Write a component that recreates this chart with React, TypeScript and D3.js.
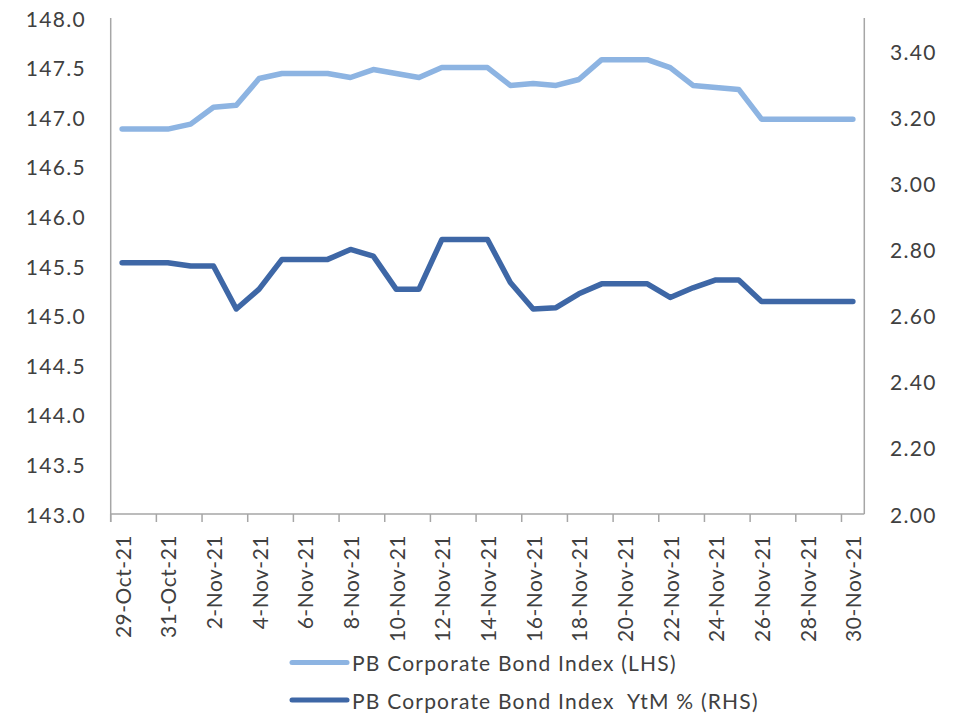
import React from "react";
import * as d3 from "d3";

const categories = [
  "29-Oct-21", "30-Oct-21", "31-Oct-21", "1-Nov-21", "2-Nov-21", "3-Nov-21", "4-Nov-21",
  "5-Nov-21", "6-Nov-21", "7-Nov-21", "8-Nov-21", "9-Nov-21", "10-Nov-21", "11-Nov-21",
  "12-Nov-21", "13-Nov-21", "14-Nov-21", "15-Nov-21", "16-Nov-21", "17-Nov-21", "18-Nov-21",
  "19-Nov-21", "20-Nov-21", "21-Nov-21", "22-Nov-21", "23-Nov-21", "24-Nov-21", "25-Nov-21",
  "26-Nov-21", "27-Nov-21", "28-Nov-21", "29-Nov-21", "30-Nov-21",
];

const indexValues = [
  146.88, 146.88, 146.88, 146.93, 147.1, 147.12, 147.39, 147.44, 147.44, 147.44, 147.4,
  147.48, 147.44, 147.4, 147.5, 147.5, 147.5, 147.32, 147.34, 147.32, 147.38, 147.58,
  147.58, 147.58, 147.5, 147.32, 147.3, 147.28, 146.98, 146.98, 146.98, 146.98, 146.98,
];

const ytmValues = [
  2.76, 2.76, 2.76, 2.75, 2.75, 2.62, 2.68, 2.77, 2.77, 2.77, 2.8,
  2.78, 2.68, 2.68, 2.83, 2.83, 2.83, 2.7, 2.62, 2.624, 2.666, 2.696,
  2.696, 2.696, 2.655, 2.684, 2.708, 2.708, 2.643, 2.643, 2.643, 2.643, 2.643,
];

const leftTicks = [143.0, 143.5, 144.0, 144.5, 145.0, 145.5, 146.0, 146.5, 147.0, 147.5, 148.0];
const rightTicks = [2.0, 2.2, 2.4, 2.6, 2.8, 3.0, 3.2, 3.4];
const seriesNames = ["PB Corporate Bond Index (LHS)", "PB Corporate Bond Index  YtM % (RHS)"];

export default function App() {
  const W = 964, H = 715;
  const left = 110.7, right = 864.3, top = 18, bottom = 514;
  const font = "Lato, 'Open Sans', sans-serif";
  const textColor = "#404040";
  const axisColor = "#A6A6A6";
  const light = "#8DB4E2";
  const dark = "#3E67A6";
  const ls = 1.3;

  const x = d3.scaleBand<string>().domain(categories).range([left, right]).padding(0);
  const cx = (c: string) => (x(c) as number) + x.bandwidth() / 2;
  const yL = d3.scaleLinear().domain([143, 148]).range([bottom, top]);
  const yR = d3.scaleLinear().domain([2.0, 3.5]).range([bottom, top]);

  const lineL = d3.line<number>().x((_, i) => cx(categories[i])).y((d) => yL(d));
  const lineR = d3.line<number>().x((_, i) => cx(categories[i])).y((d) => yR(d));

  const tickIdx = categories.map((_, i) => i).filter((i) => i % 2 === 0);

  return (
    <svg width={W} height={H} style={{ position: "absolute", left: 0, top: 0, background: "#fff" }} fontFamily={font}>
      {/* axes */}
      <line x1={left} x2={left} y1={top} y2={bottom + 8} stroke={axisColor} strokeWidth={1.5} />
      <line x1={right} x2={right} y1={top} y2={bottom} stroke={axisColor} strokeWidth={1.5} />
      <line x1={left} x2={right} y1={bottom} y2={bottom} stroke={axisColor} strokeWidth={1.5} />
      {tickIdx.map((i) => (
        <line key={"t" + i} x1={x(categories[i])} x2={x(categories[i])} y1={bottom} y2={bottom + 8} stroke={axisColor} strokeWidth={1.5} />
      ))}

      {/* left tick labels */}
      {leftTicks.map((t) => (
        <text key={"l" + t} x={86} y={yL(t)} textAnchor="end" dominantBaseline="central" fontSize={21} letterSpacing={ls} fill={textColor}>
          {t.toFixed(1)}
        </text>
      ))}
      {/* right tick labels */}
      {rightTicks.map((t) => (
        <text key={"r" + t} x={890} y={yR(t)} textAnchor="start" dominantBaseline="central" fontSize={21} letterSpacing={ls} fill={textColor}>
          {t.toFixed(2)}
        </text>
      ))}
      {/* x tick labels */}
      {tickIdx.map((i) => {
        const c = categories[i];
        return (
          <text key={"x" + i} transform={`translate(${cx(c)},${bottom + 21}) rotate(-90)`} textAnchor="end" dominantBaseline="central" fontSize={21} letterSpacing={0.5} fill={textColor}>
            {c}
          </text>
        );
      })}

      {/* series */}
      <path d={lineL(indexValues) || ""} fill="none" stroke={light} strokeWidth={5.5} strokeLinejoin="round" strokeLinecap="round" />
      <path d={lineR(ytmValues) || ""} fill="none" stroke={dark} strokeWidth={5.5} strokeLinejoin="round" strokeLinecap="round" />

      {/* legend */}
      {[light, dark].map((col, i) => {
        const ly = 662.5 + i * 37.5;
        return (
          <g key={"lg" + i}>
            <line x1={292} x2={347} y1={ly} y2={ly} stroke={col} strokeWidth={5} strokeLinecap="round" />
            <text x={352} y={ly} dominantBaseline="central" fontSize={21} letterSpacing={1.2} fill={textColor} style={{ whiteSpace: "pre" }}>
              {seriesNames[i]}
            </text>
          </g>
        );
      })}
    </svg>
  );
}
